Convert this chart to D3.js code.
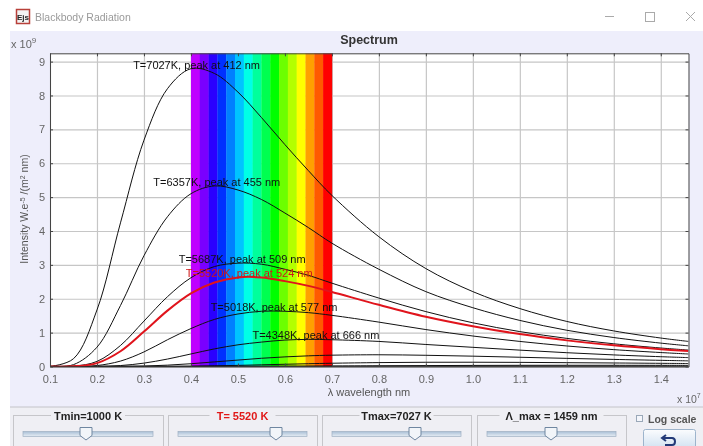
<!DOCTYPE html>
<html>
<head>
<meta charset="utf-8">
<script src="https://cdn.jsdelivr.net/npm/d3@7"></script>
<style>
  html, body { margin: 0; padding: 0; background: #fff; overflow: hidden; }
  text { font-family: "Liberation Sans", Arial, sans-serif; }
  svg { filter: blur(.35px); }
</style>
</head>
<body>
<script>
const wSvg = 703;
const hSvg = 446;

// wavelengths in units of 10^3 nm (axis is x 10^-7 m), intensity in 10^9
const wavelengths = [.1, .15, .2, .25, .3, .35, .4, .45, .5, .55, .6, .65, .7, .8, .9, 1.0, 1.1, 1.2, 1.3, 1.4, 1.459];

const curve7027 = [.002, .23, 1.67, 4.24, 6.68, 8.2, 8.79, 8.65, 8.1, 7.35, 6.55, 5.78, 5.05, 3.83, 2.89, 2.21, 1.71, 1.33, 1.05, .84, .74];
const curve6357 = [0, .055, .57, 1.8, 3.27, 4.42, 5.1, 5.33, 5.21, 4.93, 4.53, 4.1, 3.64, 2.87, 2.21, 1.735, 1.36, 1.07, .855, .69, .61];
const curve5687 = [0, .009, .15, .62, 1.34, 2.06, 2.62, 2.95, 3.05, 3.02, 2.87, 2.69, 2.46, 2.02, 1.62, 1.29, 1.03, .83, .67, .546, .485];
const curve5520 = [0, .006, .1, .45, 1.03, 1.65, 2.16, 2.48, 2.63, 2.63, 2.52, 2.38, 2.2, 1.82, 1.47, 1.19, .957, .771, .625, .511, .456];
const curve5018 = [0, .001, .028, .16, .43, .79, 1.12, 1.39, 1.55, 1.63, 1.63, 1.59, 1.51, 1.31, 1.09, .9, .74, .606, .498, .412, .369];
const curve4348 = [0, 0, .003, .028, .1, .22, .37, .52, .64, .72, .78, .8, .79, .74, .65, .566, .483, .407, .342, .289, .262];
const curve3678 = [0, 0, 0, .003, .013, .04, .082, .136, .19, .243, .284, .315, .334, .346, .331, .305, .273, .24, .209, .182, .166];
const curve3008 = [0, 0, 0, 0, .001, .003, .009, .02, .033, .05, .066, .082, .096, .115, .125, .126, .122, .113, .104, .094, .088];
const curve2339 = [0, 0, 0, 0, 0, 0, 0, .001, .002, .004, .007, .01, .014, .021, .027, .032, .035, .036, .036, .035, .034];
const curve1669 = [0, 0, 0, 0, 0, 0, 0, 0, 0, 0, 0, 0, 0, .001, .001, .002, .003, .004, .004, .005, .005];

const blackCurves = [curve7027, curve6357, curve5687, curve5018, curve4348, curve3678, curve3008, curve2339, curve1669];

const labelText = ["T=7027K, peak at 412 nm", "T=6357K, peak at 455 nm", "T=5687K, peak at 509 nm", "T=5520K, peak at 524 nm", "T=5018K, peak at 577 nm", "T=4348K, peak at 666 nm"];
const labelX = [.412, .455, .509, .524, .577, .666];
const labelY = [8.79, 5.33, 3.05, 2.65, 1.63, .8];
const labelColor = ["#111", "#111", "#111", "#d01818", "#111", "#111"];

const spectrumColors = ["#bf00ff", "#7a00ff", "#2a00ff", "#0030ff", "#0080ff", "#00c4ff", "#00ffe6", "#00ff9c", "#00ff50", "#00ff00", "#6cff00", "#b4ff00", "#ffff00", "#ffa000", "#ff5a00", "#ff0000"];

const xTicks = [.1, .2, .3, .4, .5, .6, .7, .8, .9, 1.0, 1.1, 1.2, 1.3, 1.4];
const yTicks = [0, 1, 2, 3, 4, 5, 6, 7, 8, 9];

const sliderTitles = ["Tmin=1000 K", "T= 5520 K", "Tmax=7027 K", "\u039B_max = 1459 nm"];
const sliderColors = ["#222", "#e01818", "#222", "#222"];
const sliderBoxes = [[13, 163], [168, 317], [322, 471], [477, 626]];
const sliderKnobs = [86, 276, 415, 551];

const xScale = d3.scaleLinear([.1, 1.459], [50, 688.5]);
const yScale = d3.scaleLinear([0, 9.245], [366.5, 53.3]);

const svg = d3.select("body")
  .append("svg")
  .attr("width", wSvg)
  .attr("height", hSvg)
  .style("display", "block");

const defs = svg.append("defs");
defs.append("clipPath").attr("id", "plotClip")
  .append("rect")
  .attr("x", 50).attr("y", 53.3)
  .attr("width", 638.5).attr("height", 313.2);

const trackGrad = defs.append("linearGradient").attr("id", "trackGrad")
  .attr("x1", 0).attr("y1", 0).attr("x2", 0).attr("y2", 1);
trackGrad.append("stop").attr("offset", 0).attr("stop-color", "#a9bfd6");
trackGrad.append("stop").attr("offset", 1).attr("stop-color", "#e6edf4");

const btnGrad = defs.append("linearGradient").attr("id", "btnGrad")
  .attr("x1", 0).attr("y1", 0).attr("x2", 0).attr("y2", 1);
btnGrad.append("stop").attr("offset", 0).attr("stop-color", "#fbfcfe");
btnGrad.append("stop").attr("offset", 1).attr("stop-color", "#cfe0f0");

// window
svg.append("rect").attr("width", wSvg).attr("height", hSvg).attr("fill", "#fff");
svg.append("rect").attr("x", 10).attr("y", 31).attr("width", 693).attr("height", 376).attr("fill", "#eeeefb");
svg.append("rect").attr("x", 10).attr("y", 407).attr("width", 693).attr("height", 39).attr("fill", "#efeff4");
svg.append("line").attr("x1", 10).attr("x2", 703).attr("y1", 407).attr("y2", 407).attr("stroke", "#c4c4c8");

// title bar
svg.append("rect").attr("x", 16.5).attr("y", 9.5).attr("width", 13).attr("height", 14).attr("fill", "#f3f3f3").attr("stroke", "#b8403a").attr("stroke-width", 1.5);
svg.append("text").attr("x", 23).attr("y", 20).attr("text-anchor", "middle").attr("font-size", 8).attr("font-weight", "bold").attr("fill", "#222").text("Ejs");
svg.append("text").attr("x", 35).attr("y", 21).attr("font-size", 10.5).attr("fill", "#9a9a9a").text("Blackbody Radiation");
svg.append("line").attr("x1", 605).attr("x2", 614).attr("y1", 16.5).attr("y2", 16.5).attr("stroke", "#aaa");
svg.append("rect").attr("x", 645.5).attr("y", 12.5).attr("width", 9).attr("height", 9).attr("fill", "none").attr("stroke", "#aaa");
svg.append("path").attr("d", "M686,12L695,21M695,12L686,21").attr("stroke", "#aaa").attr("fill", "none");

// plot
svg.append("rect").attr("x", 50).attr("y", 53.3).attr("width", 638.5).attr("height", 313.2).attr("fill", "#fff");

svg.append("g")
  .attr("transform", "translate(0, 366.5)")
  .call(d3.axisBottom(xScale).tickValues(xTicks).tickSize(-313.2).tickFormat(""))
  .call(g => g.select(".domain").remove())
  .call(g => g.selectAll("line").attr("stroke", "#c6c6c6").attr("stroke-width", 1.2));

svg.append("g")
  .attr("transform", "translate(50, 0)")
  .call(d3.axisLeft(yScale).tickValues(yTicks).tickSize(-638.5).tickFormat(""))
  .call(g => g.select(".domain").remove())
  .call(g => g.selectAll("line").attr("stroke", "#c6c6c6").attr("stroke-width", 1.2));

const bandScale = d3.scaleBand(d3.range(spectrumColors.length), [xScale(.4), xScale(.7)]);

svg.append("g").selectAll("rect")
  .data(spectrumColors)
  .enter()
  .append("rect")
  .attr("x", (d, i) => bandScale(i))
  .attr("y", 53.3)
  .attr("width", bandScale.bandwidth() + .3)
  .attr("height", 313.2)
  .attr("fill", d => d);

const line = d3.line()
  .x((d, i) => xScale(wavelengths[i]))
  .y(d => yScale(d))
  .curve(d3.curveCatmullRom.alpha(.5));

const curves = svg.append("g").attr("clip-path", "url(#plotClip)").attr("fill", "none");

curves.selectAll(".black-curve")
  .data(blackCurves)
  .enter()
  .append("path")
  .attr("class", "black-curve")
  .attr("d", line)
  .attr("stroke", "#111")
  .attr("stroke-width", 1);

curves.append("line")
  .attr("x1", xScale(.1)).attr("x2", xScale(1.459))
  .attr("y1", yScale(0)).attr("y2", yScale(0))
  .attr("stroke", "#111").attr("stroke-width", 1.5);

curves.append("path")
  .attr("d", line(curve5520))
  .attr("stroke", "#e0141c")
  .attr("stroke-width", 2);

svg.append("g").selectAll("text")
  .data(labelText)
  .enter()
  .append("text")
  .attr("x", (d, i) => xScale(labelX[i]))
  .attr("y", (d, i) => yScale(labelY[i]))
  .attr("text-anchor", "middle")
  .attr("font-size", 11)
  .attr("fill", (d, i) => labelColor[i])
  .text(d => d);

// frame and inward ticks on all four sides
function styleFrame(g) {
  g.select(".domain").attr("stroke", "#444");
  g.selectAll(".tick line").attr("stroke", "#444");
  g.selectAll("text").attr("font-size", 11).attr("fill", "#666").attr("font-family", "Liberation Sans");
}

svg.append("g")
  .attr("transform", "translate(0, 366.5)")
  .call(d3.axisBottom(xScale).tickValues(xTicks).tickSizeOuter(0).tickSizeInner(-3).tickPadding(9).tickFormat(d3.format(".1f")))
  .call(styleFrame);

svg.append("g")
  .attr("transform", "translate(0, 53.3)")
  .call(d3.axisTop(xScale).tickValues(xTicks).tickSizeOuter(0).tickSizeInner(-3).tickFormat(""))
  .call(styleFrame);

svg.append("g")
  .attr("transform", "translate(50, 0)")
  .call(d3.axisLeft(yScale).tickValues(yTicks).tickSizeOuter(0).tickSizeInner(-3).tickPadding(5).tickFormat(d3.format("d")))
  .call(styleFrame);

svg.append("g")
  .attr("transform", "translate(688.5, 0)")
  .call(d3.axisRight(yScale).tickValues(yTicks).tickSizeOuter(0).tickSizeInner(-3).tickFormat(""))
  .call(styleFrame);

// axis titles
svg.append("text").attr("x", 369).attr("y", 44).attr("text-anchor", "middle").attr("font-size", 12.5).attr("font-weight", "bold").attr("fill", "#333").text("Spectrum");
svg.append("text").attr("x", 369).attr("y", 396).attr("text-anchor", "middle").attr("font-size", 11).attr("fill", "#555").text("\u03BB wavelength nm");

const yTitle = svg.append("text")
  .attr("transform", "translate(28, 209) rotate(-90)")
  .attr("text-anchor", "middle").attr("font-size", 10.5).attr("fill", "#555");
yTitle.append("tspan").text("Intensity W.e");
yTitle.append("tspan").attr("font-size", 7).attr("dy", -3).text("-5");
yTitle.append("tspan").attr("dy", 3).text(" /(m");
yTitle.append("tspan").attr("font-size", 7).attr("dy", -3).text("2");
yTitle.append("tspan").attr("dy", 3).text(" nm)");

const yExp = svg.append("text").attr("x", 11).attr("y", 48).attr("font-size", 11).attr("fill", "#666");
yExp.append("tspan").text("x 10");
yExp.append("tspan").attr("font-size", 8).attr("dy", -5).text("9");

const xExp = svg.append("text").attr("x", 677).attr("y", 403).attr("font-size", 10.5).attr("fill", "#666");
xExp.append("tspan").text("x 10");
xExp.append("tspan").attr("font-size", 7).attr("dy", -5).text("7");

// sliders
const sliders = svg.append("g").selectAll("g")
  .data(sliderTitles)
  .enter()
  .append("g");

sliders.append("rect")
  .attr("x", (d, i) => sliderBoxes[i][0] + .5)
  .attr("y", 415.5)
  .attr("width", (d, i) => sliderBoxes[i][1] - sliderBoxes[i][0])
  .attr("height", 40)
  .attr("fill", "none")
  .attr("stroke", "#c6c6ca");

sliders.append("rect")
  .attr("x", (d, i) => (sliderBoxes[i][0] + sliderBoxes[i][1]) / 2 - (i == 3 ? 52 : i == 1 ? 33 : 37))
  .attr("y", 410)
  .attr("width", (d, i) => i == 3 ? 104 : i == 1 ? 66 : 74)
  .attr("height", 11)
  .attr("fill", "#efeff4");

sliders.append("text")
  .attr("x", (d, i) => (sliderBoxes[i][0] + sliderBoxes[i][1]) / 2)
  .attr("y", 420)
  .attr("text-anchor", "middle")
  .attr("font-size", 11)
  .attr("font-weight", "bold")
  .attr("fill", (d, i) => sliderColors[i])
  .text(d => d);

sliders.append("rect")
  .attr("x", (d, i) => sliderBoxes[i][0] + 10)
  .attr("y", 431.5)
  .attr("width", (d, i) => sliderBoxes[i][1] - sliderBoxes[i][0] - 20)
  .attr("height", 5)
  .attr("fill", "url(#trackGrad)")
  .attr("stroke", "#9fb0c2")
  .attr("stroke-width", .7);

sliders.append("path")
  .attr("d", (d, i) => {
    const k = sliderKnobs[i];
    return `M${k - 6},427.5H${k + 6}V435.5L${k},440L${k - 6},435.5Z`;
  })
  .attr("fill", "#f2f5f9")
  .attr("stroke", "#6f86a0");

// log scale box and reset button
svg.append("rect").attr("x", 636.5).attr("y", 415.5).attr("width", 6).attr("height", 6).attr("fill", "#f4f6fb").attr("stroke", "#9aa8b8");
svg.append("text").attr("x", 648).attr("y", 423).attr("font-size", 10.5).attr("font-weight", "bold").attr("fill", "#555").text("Log scale");
svg.append("rect").attr("x", 643.5).attr("y", 429.5).attr("width", 52).attr("height", 20).attr("rx", 2).attr("fill", "url(#btnGrad)").attr("stroke", "#9db4cc");
svg.append("path")
  .attr("d", "M666,435L662,438L666,441M662,438H672Q675,438 675,441.5Q675,445 672,445H665")
  .attr("fill", "none").attr("stroke", "#223a78").attr("stroke-width", 2);
</script>
</body>
</html>
